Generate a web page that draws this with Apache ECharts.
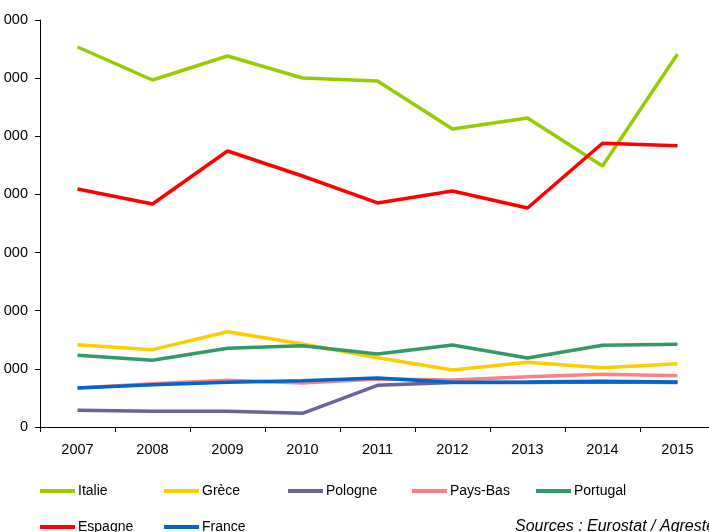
<!DOCTYPE html>
<html>
<head>
<meta charset="utf-8">
<script src="https://cdn.jsdelivr.net/npm/echarts@6/dist/echarts.min.js"></script>
<style>
html,body{margin:0;padding:0;background:#fff;}
#c{width:709px;height:532px;}
</style>
</head>
<body>
<div id="c"></div>
<script>
var years = ['2007','2008','2009','2010','2011','2012','2013','2014','2015'];
var yTicks = [0, 1000, 2000, 3000, 4000, 5000, 6000, 7000];
var italie   = [6536, 5968, 6381, 6003, 5951, 5126, 5315, 4489, 6416];
var grece    = [1416, 1330, 1639, 1428, 1192, 980, 1113, 1020, 1089];
var pologne  = [287, 270, 270, 236, 717, 765, 765, 774, 765];
var paysBas  = [671, 745, 803, 757, 826, 808, 865, 906, 882];
var portugal = [1233, 1147, 1354, 1398, 1256, 1410, 1187, 1405, 1422];
var espagne  = [4094, 3836, 4747, 4317, 3853, 4059, 3767, 4880, 4838];
var france   = [671, 728, 769, 796, 843, 769, 774, 786, 774];
var sourceText = 'Sources : Eurostat / Agreste';

var names = ['Italie','Grèce','Pologne','Pays-Bas','Portugal','Espagne','France'];
var datasets = [italie, grece, pologne, paysBas, portugal, espagne, france];
var colors = ['#99CC00','#FFCC00','#666699','#FF8080','#339966','#FF0000','#0066CC'];

var legendPos = [[40,484],[164,484],[288,484],[412,484],[536,484],[40,520],[164,520]];

var chart = echarts.init(document.getElementById('c'));
var fontFam = '"Liberation Sans", Arial, sans-serif';

var legends = names.map(function(n, i){
  return {
    data: [n],
    left: legendPos[i][0],
    top: legendPos[i][1],
    padding: 0,
    icon: 'rect',
    itemWidth: 35,
    itemHeight: 4,
    selectedMode: false,
    textStyle: {fontFamily: fontFam, fontSize: 14, color: '#000', padding: [0,0,0,-2]}
  };
});

chart.setOption({
  animation: false,
  color: colors,
  grid: {left: 40, top: 20, width: 675, bottom: 105, containLabel: false, outerBoundsMode: 'none'},
  legend: legends,
  xAxis: {
    type: 'category',
    data: years,
    boundaryGap: true,
    axisLine: {lineStyle: {color: '#000', width: 1}},
    axisTick: {show: true, length: 5, lineStyle: {color: '#000'}},
    axisLabel: {fontFamily: fontFam, fontSize: 14.5, color: '#000', margin: 15}
  },
  yAxis: {
    type: 'value',
    min: yTicks[0],
    max: yTicks[yTicks.length - 1],
    interval: 1000,
    splitLine: {show: false},
    axisLine: {show: true, lineStyle: {color: '#000', width: 1}},
    axisTick: {show: true, length: 5, lineStyle: {color: '#000'}},
    axisLabel: {
      fontFamily: fontFam, fontSize: 14.5, color: '#000', margin: 12,
      formatter: function(v){
        return String(v).replace(/\B(?=(\d{3})+(?!\d))/g, ' ');
      }
    }
  },
  series: datasets.map(function(d, i){
    return {
      name: names[i],
      type: 'line',
      data: d,
      symbol: 'none',
      lineStyle: {width: 3.5, color: colors[i]},
      itemStyle: {color: colors[i]}
    };
  }),
  graphic: [{
    type: 'text',
    left: 515,
    top: 519,
    style: {text: sourceText, font: 'italic 16px ' + fontFam, fill: '#000'}
  }]
});
</script>
</body>
</html>
